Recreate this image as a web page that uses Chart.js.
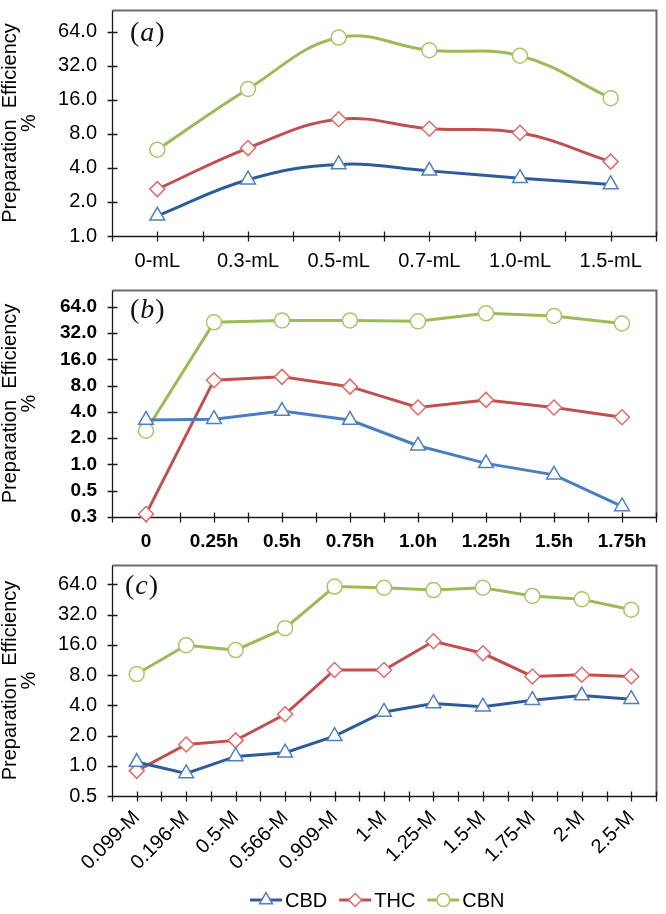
<!DOCTYPE html>
<html>
<head>
<meta charset="utf-8">
<title>Preparation Efficiency</title>
<script src="https://cdn.jsdelivr.net/npm/chart.js@4.4.0/dist/chart.umd.min.js"></script>
<style>
  body { margin: 0; background: #fff; }
  #wrap { position: relative; width: 666px; height: 914px; overflow: hidden; }
  #wrap canvas { position: absolute; left: 0; }
</style>
</head>
<body>
<div id="wrap">
  <canvas id="chartA" width="666" height="280" style="top:0"></canvas>
  <canvas id="chartB" width="666" height="275" style="top:280px"></canvas>
  <canvas id="chartC" width="666" height="359" style="top:555px"></canvas>
</div>
<script>
// ---- data ----
const seriesNames = ['CBD', 'THC', 'CBN'];

// (a) solvent volume
const volumeLabels = ['0-mL', '0.3-mL', '0.5-mL', '0.7-mL', '1.0-mL', '1.5-mL'];
const volumeCBD = [1.51, 3.15, 4.3, 3.77, 3.25, 2.86];
const volumeTHC = [2.6, 6.0, 10.8, 8.9, 8.2, 4.55];
const volumeCBN = [5.8, 20.0, 57, 44, 39.4, 16.6];

// (b) reaction time
const timeLabels = ['0', '0.25h', '0.5h', '0.75h', '1.0h', '1.25h', '1.5h', '1.75h'];
const timeCBD = [3.23, 3.3, 4.1, 3.23, 1.64, 1.03, 0.76, 0.33];
const timeTHC = [0.27, 9.25, 10.1, 7.8, 4.5, 5.5, 4.5, 3.48];
const timeCBN = [2.44, 42.6, 44.8, 44.8, 43.7, 54, 50.5, 41.3];

// (c) concentration
const concLabels = ['0.099-M', '0.196-M', '0.5-M', '0.566-M', '0.909-M', '1-M', '1.25-M', '1.5-M', '1.75-M', '2-M', '2.5-M'];
const concCBD = [1.09, 0.84, 1.24, 1.35, 1.97, 3.44, 4.18, 3.88, 4.5, 5.0, 4.6];
const concTHC = [0.89, 1.63, 1.79, 3.26, 9.0, 9.0, 17.4, 13.2, 7.76, 8.06, 7.76];
const concCBN = [8.2, 15.9, 14.2, 23.5, 61, 59.4, 56.3, 59.4, 49.2, 45.6, 35.8];

// y axis ticks (log base 2)
const yTicksA = [1, 2, 4, 8, 16, 32, 64];
const yTickLabelsA = ['1.0', '2.0', '4.0', '8.0', '16.0', '32.0', '64.0'];
const yTicksB = [0.25, 0.5, 1, 2, 4, 8, 16, 32, 64];
const yTickLabelsB = ['0.3', '0.5', '1.0', '2.0', '4.0', '8.0', '16.0', '32.0', '64.0'];
const yTicksC = [0.5, 1, 2, 4, 8, 16, 32, 64];
const yTickLabelsC = ['0.5', '1.0', '2.0', '4.0', '8.0', '16.0', '32.0', '64.0'];
const yMax = 100;

const yTitle = ['Preparation  Efficiency', '%'];

// ---- styling ----
const FONT = '"Liberation Sans", Arial, sans-serif';
const colors = {
  cbd: '#2E5C9A', cbdLight: '#4A7EC2', cbdMarker: '#4F81BD',
  thc: '#C0504D', thcMarker: '#E06B68',
  cbn: '#9BBB59', cbnMarker: '#A9C76A'
};

function makeDatasets(cbd, thc, cbn, blue, tension) {
  const base = {
    borderWidth: 3,
    pointBackgroundColor: '#fff',
    pointBorderWidth: 1.5,
    pointHoverRadius: 8,
    tension: tension,
    clip: false
  };
  return [
    { ...base, label: seriesNames[0], data: cbd, borderColor: blue, pointStyle: 'triangle', pointRadius: 8.5, pointBorderColor: colors.cbdMarker },
    { ...base, label: seriesNames[1], data: thc, borderColor: colors.thc, pointStyle: 'rectRot', pointRadius: 7.5, pointBorderColor: colors.thcMarker },
    { ...base, label: seriesNames[2], data: cbn, borderColor: colors.cbn, pointStyle: 'circle', pointRadius: 7.5, pointBorderColor: colors.cbnMarker }
  ];
}

// axes drawn Excel style: crossing tick marks, boxed plot area
const axisFrame = {
  id: 'axisFrame',
  beforeDatasetsDraw(chart) {
    const { ctx, chartArea: a, scales: { x, y } } = chart;
    const L = Math.round(a.left) + 0.5, R = Math.round(a.right) + 0.5;
    const T = Math.round(a.top) + 0.5, B = Math.round(a.bottom) + 0.5;
    ctx.save();
    ctx.strokeStyle = '#6b6b6b';
    ctx.lineWidth = 2;
    ctx.beginPath();
    ctx.moveTo(L, T); ctx.lineTo(R, T); ctx.lineTo(R, B);
    ctx.stroke();

    ctx.strokeStyle = '#1a1a1a';
    ctx.lineWidth = 1.3;
    ctx.beginPath();
    ctx.moveTo(L, T); ctx.lineTo(L, B); ctx.lineTo(R, B);
    y.ticks.forEach(t => {
      const py = Math.round(y.getPixelForValue(t.value)) + 0.5;
      ctx.moveTo(L - 5, py); ctx.lineTo(L + 5, py);
    });
    const n = x.ticks.length;
    for (let i = -0.5; i <= n - 0.5; i += 0.5) {
      const px = Math.round(x.getPixelForValue(i)) + 0.5;
      ctx.moveTo(px, B - 5); ctx.lineTo(px, B + 5);
    }
    ctx.stroke();
    ctx.restore();
  }
};

// "(a)" style tag, upright brackets and italic letter
const panelTag = {
  id: 'panelTag',
  afterDraw(chart, args, opts) {
    const { ctx, chartArea: a } = chart;
    let x = a.left + opts.dx;
    const y = a.top + opts.dy;
    ctx.save();
    ctx.fillStyle = '#111';
    ctx.textBaseline = 'alphabetic';
    ctx.font = '28px "Liberation Serif", "Times New Roman", serif';
    ctx.fillText('(', x, y);
    x += ctx.measureText('(').width + 1;
    ctx.font = 'italic 28px "Liberation Serif", "Times New Roman", serif';
    ctx.fillText(opts.letter, x, y);
    x += ctx.measureText(opts.letter).width + 1;
    ctx.font = '28px "Liberation Serif", "Times New Roman", serif';
    ctx.fillText(')', x, y);
    ctx.restore();
  }
};

// legend drawn as Excel does: line sample with marker in its middle
const lineLegend = {
  id: 'lineLegend',
  afterDraw(chart, args, opts) {
    if (!opts.show) return;
    const ctx = chart.ctx;
    let x = opts.x;
    const y = opts.y;
    ctx.save();
    ctx.font = '20px ' + FONT;
    ctx.textBaseline = 'middle';
    chart.data.datasets.forEach(ds => {
      ctx.strokeStyle = ds.borderColor;
      ctx.lineWidth = 3;
      ctx.beginPath();
      ctx.moveTo(x, y); ctx.lineTo(x + 32, y);
      ctx.stroke();
      ctx.fillStyle = '#fff';
      ctx.strokeStyle = ds.pointBorderColor;
      ctx.lineWidth = 1.5;
      Chart.helpers.drawPoint(ctx, { pointStyle: ds.pointStyle, radius: ds.pointRadius - 1, borderWidth: 1.5, rotation: 0 }, x + 16, y);
      ctx.fillStyle = '#000';
      ctx.fillText(ds.label, x + 35, y + 1);
      x += 35 + ctx.measureText(ds.label).width + 12;
    });
    ctx.restore();
  }
};

function makePanel(canvasId, cfg) {
  const tickFont = { family: FONT, size: cfg.bold ? 19 : 20, weight: cfg.bold ? 'bold' : 'normal' };
  return new Chart(document.getElementById(canvasId), {
    type: 'line',
    data: { labels: cfg.labels, datasets: cfg.datasets },
    plugins: [axisFrame, panelTag, lineLegend],
    options: {
      responsive: false,
      animation: false,
      layout: { padding: { top: cfg.padTop, right: 3, left: 0, bottom: 0 } },
      plugins: {
        legend: { display: false },
        tooltip: { enabled: false },
        panelTag: { letter: cfg.letter, dx: cfg.tagDx, dy: cfg.tagDy },
        lineLegend: cfg.legend || { show: false }
      },
      scales: {
        x: {
          type: 'category',
          offset: true,
          grid: { display: false, drawTicks: false },
          border: { display: false },
          ticks: {
            color: '#000',
            font: tickFont,
            padding: cfg.xPad,
            autoSkip: false,
            maxRotation: cfg.rotate,
            minRotation: cfg.rotate
          },
          afterFit(s) {
            s.height = cfg.xHeight;
            s.paddingLeft = 0;
            s.paddingRight = 0;
          }
        },
        y: {
          type: 'logarithmic',
          min: cfg.yTicks[0],
          max: yMax,
          grid: { display: false, drawTicks: false },
          border: { display: false },
          afterBuildTicks(s) {
            s.ticks = cfg.yTicks.map(v => ({ value: v }));
          },
          ticks: {
            color: '#000',
            font: tickFont,
            padding: 15,
            autoSkip: false,
            callback: v => cfg.yTickLabels[cfg.yTicks.indexOf(v)]
          },
          title: {
            display: true,
            text: yTitle,
            color: '#000',
            font: { family: FONT, size: 20, lineHeight: 0.95 },
            padding: { top: 0.5, bottom: 0 }
          },
          afterFit(s) {
            s.width = 112;
            s.paddingTop = 0;
            s.paddingBottom = 0;
          }
        }
      }
    }
  });
}

makePanel('chartA', {
  labels: volumeLabels,
  datasets: makeDatasets(volumeCBD, volumeTHC, volumeCBN, colors.cbd, 0.4),
  yTicks: yTicksA, yTickLabels: yTickLabelsA,
  padTop: 1, xHeight: 44, xPad: 13, rotate: 0,
  letter: 'a', tagDx: 18, tagDy: 31
});

makePanel('chartB', {
  labels: timeLabels,
  datasets: makeDatasets(timeCBD, timeTHC, timeCBN, colors.cbdLight, 0),
  yTicks: yTicksB, yTickLabels: yTickLabelsB,
  padTop: 3, xHeight: 38, xPad: 13, rotate: 0, bold: true,
  letter: 'b', tagDx: 18, tagDy: 28
});

makePanel('chartC', {
  labels: concLabels,
  datasets: makeDatasets(concCBD, concTHC, concCBN, colors.cbd, 0),
  yTicks: yTicksC, yTickLabels: yTickLabelsC,
  padTop: 8, xHeight: 118, xPad: 10, rotate: 45,
  letter: 'c', tagDx: 13, tagDy: 29,
  legend: { show: true, x: 250, y: 345 }
});
</script>
</body>
</html>
